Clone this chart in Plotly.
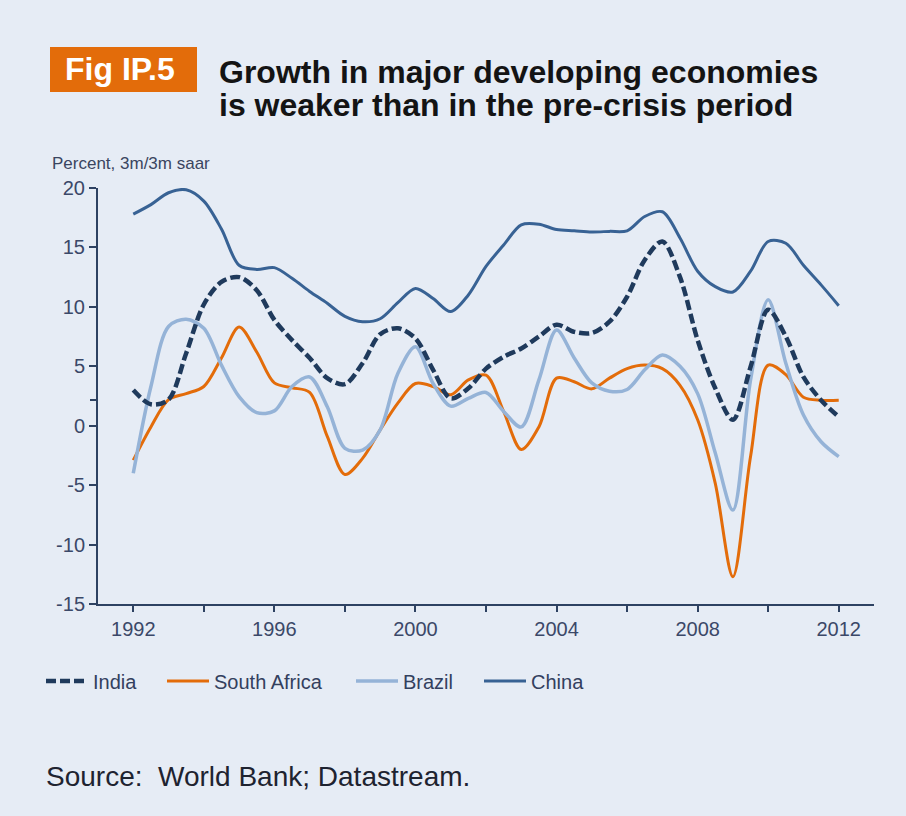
import plotly.graph_objects as go

# Half-yearly observations, 1992 to 2012
years = [1992 + 0.5 * i for i in range(41)]

india = [3.0, 1.8, 2.2, 6.1, 10.2, 12.1, 12.5, 11.4, 8.9, 7.2,
         5.7, 4.0, 3.5, 5.25, 7.7, 8.2, 7.35, 4.7, 2.3, 3.15,
         4.8, 5.8, 6.5, 7.5, 8.5, 7.9, 7.8, 8.75, 10.85, 13.95,
         15.5, 12.5, 7.2, 3.15, 0.5, 4.95, 9.75, 7.5, 4.1, 2.15,
         0.75]

south_africa = [-2.9, -0.1, 2.2, 2.7, 3.3, 5.7, 8.3, 6.2, 3.6, 3.2,
                2.8, -0.9, -4.1, -2.75, -0.35, 1.9, 3.55, 3.3, 2.6, 3.85,
                4.25, 1.2, -2.0, -0.1, 4.0, 3.7, 3.1, 4.0, 4.8, 5.1,
                4.8, 3.4, 0.5, -4.85, -12.7, -2.6, 5.1, 4.3, 2.4, 2.15,
                2.15]

brazil = [-4.0, 3.3, 8.35, 8.95, 8.2, 5.1, 2.45, 1.1, 1.25, 3.3,
          4.1, 1.6, -1.9, -2.05, -0.35, 4.4, 6.65, 3.55, 1.65, 2.3,
          2.8, 1.2, -0.1, 3.85, 8.05, 5.7, 3.6, 2.9, 3.05, 4.7,
          5.95, 5.0, 2.7, -2.3, -7.1, 3.85, 10.6, 5.25, 0.9, -1.35,
          -2.6]

china = [17.8, 18.6, 19.6, 19.85, 18.9, 16.55, 13.5, 13.15, 13.3, 12.4,
         11.3, 10.3, 9.2, 8.75, 9.0, 10.35, 11.55, 10.7, 9.6, 11.0,
         13.4, 15.2, 16.9, 16.95, 16.5, 16.4, 16.3, 16.35, 16.4, 17.6,
         18.0, 15.8, 13.0, 11.7, 11.25, 13.0, 15.5, 15.35, 13.5, 11.85,
         10.1]

x_ticks = [1992, 1996, 2000, 2004, 2008, 2012]
x_minor = [1994, 1998, 2002, 2006, 2010]
y_ticks = [-15, -10, -5, 0, 5, 10, 15, 20]
y_labels = [str(v) for v in y_ticks]  # plain hyphen for negatives

BG = "#E6ECF5"
AXIS = "#2E4262"
TICKFONT = "#3B4868"
FONT = "Liberation Sans, Arial, sans-serif"
W, H = 906, 816
L, R, T, B = 98, 874, 188, 604


def px(x):
    return (x - L) / (R - L)


def py(y):
    return (B - y) / (B - T)


fig = go.Figure()
# (name, values, colour, width, dash, legend id, legend left edge in px)
series = [
    ("South Africa", south_africa, "#E36C0A", 3, "solid", "legend2", 162),
    ("Brazil", brazil, "#95B3D7", 3.5, "solid", "legend3", 351),
    ("China", china, "#386294", 3, "solid", "legend4", 479),
    ("India", india, "#1F3A5C", 4.5, "10px,4px", "legend", 41),
]
legend_layout = {}
for name, vals, color, width, dash, leg, left in series:
    fig.add_trace(go.Scatter(
        x=years, y=vals, name=name, mode="lines", legend=leg,
        line=dict(color=color, width=width, dash=dash,
                  shape="spline", smoothing=0.9),
    ))
    legend_layout[leg] = dict(
        orientation="h",
        xref="container", yref="container",
        x=left / W, y=1 - 681 / H, xanchor="left", yanchor="middle",
        itemwidth=42,
        font=dict(size=20, color="#33405E", family=FONT),
        bgcolor="rgba(0,0,0,0)",
    )

fig.update_layout(
    width=W, height=H,
    margin=dict(l=L, r=W - R, t=T, b=H - B),
    paper_bgcolor=BG, plot_bgcolor=BG,
    font=dict(family=FONT, color=TICKFONT),
    showlegend=True,
    **legend_layout,
    xaxis=dict(
        range=[1991, 2013], tickmode="array", tickvals=x_ticks,
        ticktext=[str(v) for v in x_ticks],
        showgrid=False, zeroline=False,
        showline=True, linecolor=AXIS, linewidth=2,
        ticks="outside", ticklen=6, tickwidth=2, tickcolor=AXIS,
        minor=dict(tickvals=x_minor, ticks="outside", ticklen=6,
                   tickwidth=2, tickcolor=AXIS),
        tickfont=dict(size=20, color=TICKFONT),
    ),
    yaxis=dict(
        range=[-15, 20], tickmode="array", tickvals=y_ticks,
        ticktext=y_labels,
        showgrid=False, zeroline=False,
        showline=True, linecolor=AXIS, linewidth=2,
        ticks="outside", ticklen=7, tickwidth=2, tickcolor=AXIS,
        minor=dict(tickvals=[2.2], ticks="outside", ticklen=6,
                   tickwidth=2, tickcolor=AXIS),
        tickfont=dict(size=20, color=TICKFONT),
    ),
)

# Figure badge and headline
fig.add_shape(type="rect", xref="paper", yref="paper",
              x0=px(50), x1=px(197), y0=py(92), y1=py(47),
              fillcolor="#E36C0A", line=dict(width=0), layer="above")
fig.add_annotation(xref="paper", yref="paper", x=px(120), y=py(69),
                   text="<b>Fig IP.5</b>", showarrow=False,
                   xanchor="center", yanchor="middle",
                   font=dict(size=32, color="white", family=FONT))
for line_text, yc in [("Growth in major developing economies", 72),
                      ("is weaker than in the pre-crisis period", 105)]:
    fig.add_annotation(xref="paper", yref="paper", x=px(217), y=py(yc),
                       text="<b>" + line_text + "</b>", showarrow=False,
                       xanchor="left", yanchor="middle",
                       font=dict(size=32, color="#141414", family=FONT))

fig.add_annotation(xref="paper", yref="paper", x=px(50), y=py(163),
                   text="Percent, 3m/3m saar", showarrow=False,
                   xanchor="left", yanchor="middle",
                   font=dict(size=17, color="#3A4560"))

fig.add_annotation(xref="paper", yref="paper", x=px(44), y=py(776),
                   text="Source:  World Bank; Datastream.", showarrow=False,
                   xanchor="left", yanchor="middle",
                   font=dict(size=28, color="#1E2330"))

fig.write_html("out.html")
